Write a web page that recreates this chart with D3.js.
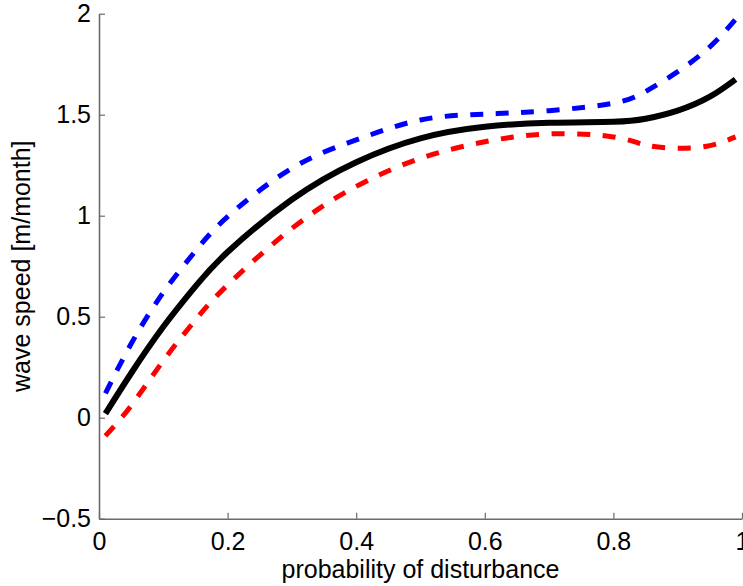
<!DOCTYPE html>
<html>
<head>
<meta charset="utf-8">
<script src="https://cdn.jsdelivr.net/npm/d3@7"></script>
<style>
    body { margin: 0; background: #fff; }
    text { font-family: "Liberation Sans", Arial, Helvetica, sans-serif; }
</style>
</head>
<body>
<svg id="chart" width="743" height="586"></svg>
<script>
// values
const xVals = [0.01, 0.05, 0.1, 0.15, 0.2, 0.3, 0.4, 0.5, 0.6, 0.7, 0.8, 0.85, 0.9, 0.95, 0.99];
const meanSpeed = [0.02, 0.22, 0.45, 0.65, 0.82, 1.08, 1.265, 1.383, 1.44, 1.46, 1.465, 1.48, 1.52, 1.589, 1.675];
const upperSpeed = [0.12, 0.366, 0.62, 0.825, 0.995, 1.235, 1.375, 1.474, 1.503, 1.52, 1.557, 1.615, 1.713, 1.836, 1.972];
const lowerSpeed = [-0.09, 0.06, 0.282, 0.484, 0.657, 0.937, 1.145, 1.284, 1.366, 1.405, 1.39, 1.35, 1.334, 1.347, 1.39];
const xTicks = [0, 0.2, 0.4, 0.6, 0.8, 1];
const yTicks = [-0.5, 0, 0.5, 1, 1.5, 2];

const svg = d3.select("#chart");
const margin = { left: 99, right: 1, top: 13.7, bottom: 67.3 };
const width = +svg.attr("width"),
    height = +svg.attr("height");

const x = d3.scaleLinear().domain([0, 1]).range([margin.left, width - margin.right]);
const y = d3.scaleLinear().domain([-0.5, 2]).range([height - margin.bottom, margin.top]);

const axisColor = "#6b6b6b";
const fontSize = 25;

// bottom axis, ticks pointing inward like matlab
const xAxis = svg.append("g")
    .attr("transform", `translate(0,${y(-0.5)})`)
    .call(d3.axisBottom(x).tickValues(xTicks).tickSizeInner(-6).tickSizeOuter(0).tickPadding(14)
        .tickFormat(d => String(d)));
xAxis.select(".domain").attr("stroke", axisColor).attr("stroke-width", 1.6);
xAxis.selectAll(".tick line").attr("stroke", axisColor).attr("stroke-width", 1.2);
xAxis.selectAll(".tick text").attr("font-size", fontSize).attr("fill", "#000");

const yAxis = svg.append("g")
    .attr("transform", `translate(${x(0)},0)`)
    .call(d3.axisLeft(y).tickValues(yTicks).tickSizeInner(-6).tickSizeOuter(0).tickPadding(8)
        .tickFormat(d => d < 0 ? "\u2212" + Math.abs(d) : String(d)));
yAxis.select(".domain").attr("stroke", axisColor).attr("stroke-width", 1.6);
yAxis.selectAll(".tick line").attr("stroke", axisColor).attr("stroke-width", 1.2);
yAxis.selectAll(".tick text").attr("font-size", fontSize).attr("fill", "#000");

// axis labels
svg.append("text")
    .attr("x", (x(0) + x(1)) / 2)
    .attr("y", 578)
    .attr("text-anchor", "middle")
    .attr("font-size", fontSize)
    .text("probability of disturbance");

svg.append("text")
    .attr("transform", `translate(30,${(y(-0.5) + y(2)) / 2}) rotate(-90)`)
    .attr("text-anchor", "middle")
    .attr("font-size", fontSize)
    .text("wave speed [m/month]");

// curves
const line = d3.line()
    .x(d => x(d[0]))
    .y(d => y(d[1]))
    .curve(d3.curveNatural);

const series = [
    { values: upperSpeed, color: "#0000ff", width: 5, dash: "13,12.5" },
    { values: lowerSpeed, color: "#ff0000", width: 5, dash: "13,12.5" },
    { values: meanSpeed, color: "#000000", width: 6, dash: null }
];

svg.append("g")
    .selectAll("path")
    .data(series)
    .join("path")
    .attr("d", s => line(xVals.map((v, i) => [v, s.values[i]])))
    .attr("fill", "none")
    .attr("stroke", s => s.color)
    .attr("stroke-width", s => s.width)
    .attr("stroke-dasharray", s => s.dash);
</script>
</body>
</html>
